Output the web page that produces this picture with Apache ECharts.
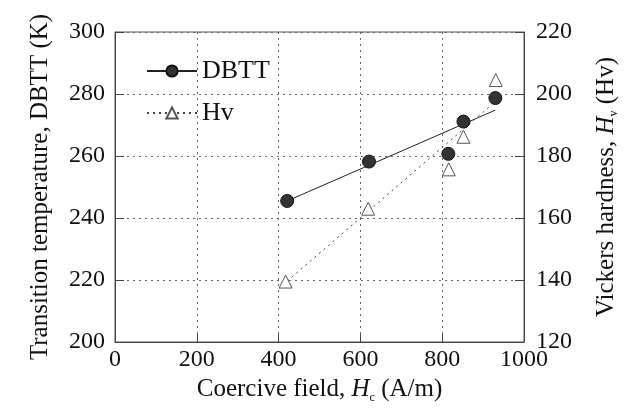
<!DOCTYPE html>
<html><head><meta charset="utf-8">
<script src="https://cdn.jsdelivr.net/npm/echarts@6/dist/echarts.min.js"></script>
<style>html,body{margin:0;padding:0;background:#fff}#c{width:635px;height:416px}</style>
</head><body><div id="c"></div>
<script>
const xTicks = [0, 200, 400, 600, 800, 1000];
const dbttX = [421, 621, 815, 852, 930];
const dbttY = [245.5, 258.2, 260.7, 271.1, 278.7];
const hvX = [417, 619, 816, 852, 931];
const hvY = [139.5, 163, 175.7, 186.2, 204.5];
const dbttFitX = [421, 930];
const dbttFitY = [245.5, 274.8];
const hvFitX = [410, 919];
const hvFitY = [138.4, 196.3];

const F = '"Liberation Serif", "Times New Roman", serif';
const chart = echarts.init(document.getElementById('c'));
const zip = (a, b) => a.map((v, i) => [v, b[i]]);
chart.setOption({
  animation: false,
  textStyle: {fontFamily: F},
  grid: {left: 115, right: 111, top: 32, bottom: 74, show: true, borderColor: '#555', borderWidth: 1},
  legend: {
    orient: 'vertical', left: 141, top: 53, itemWidth: 50, itemHeight: 14, itemGap: 16,
    textStyle: {fontFamily: F, fontSize: 26, color: '#111'},
    data: ['DBTT', 'Hv']
  },
  xAxis: {
    type: 'value', min: 0, max: 1000, interval: 200,
    name: '{a|Coercive field, }{i|H}{s|c}{a| (A/m)}',
    nameLocation: 'middle', nameGap: 32,
    nameTextStyle: {rich: {
      a: {fontFamily: F, fontSize: 25, color: '#111'},
      i: {fontFamily: F, fontSize: 25, fontStyle: 'italic', color: '#111'},
      s: {fontFamily: F, fontSize: 12, color: '#111', padding: [16, 0, 0, 0]}
    }},
    axisLine: {lineStyle: {color: '#444', width: 1}},
    axisTick: {inside: true, length: 8, lineStyle: {color: '#444'}},
    axisLabel: {fontFamily: F, fontSize: 24, color: '#111', margin: 6, formatter: v => String(v)},
    splitLine: {show: true, lineStyle: {type: [2, 4], color: '#666', width: 1}}
  },
  yAxis: [{
    type: 'value', min: 200, max: 300, interval: 20,
    name: 'Transition temperature, DBTT (K)',
    nameLocation: 'middle', nameGap: 62, nameRotate: 90,
    nameTextStyle: {fontFamily: F, fontSize: 25, color: '#111'},
    axisLine: {show: true, lineStyle: {color: '#444', width: 1}},
    axisTick: {show: true, inside: true, length: 9, lineStyle: {color: '#444'}},
    axisLabel: {fontFamily: F, fontSize: 24, color: '#111', margin: 10, formatter: v => String(v)},
    splitLine: {show: true, lineStyle: {type: [2, 4], color: '#666', width: 1}}
  }, {
    type: 'value', min: 120, max: 220, interval: 20, position: 'right',
    name: '{a|Vickers hardness, }{i|H}{s|v}{a| (Hv)}',
    nameLocation: 'middle', nameGap: 68, nameRotate: 90,
    nameTextStyle: {rich: {
      a: {fontFamily: F, fontSize: 25, color: '#111'},
      i: {fontFamily: F, fontSize: 25, fontStyle: 'italic', color: '#111'},
      s: {fontFamily: F, fontSize: 12, color: '#111', padding: [16, 0, 0, 0]}
    }},
    axisLine: {show: true, lineStyle: {color: '#444', width: 1}},
    axisTick: {show: true, inside: true, length: 9, lineStyle: {color: '#444'}},
    axisLabel: {fontFamily: F, fontSize: 24, color: '#111', margin: 12, formatter: v => String(v)},
    splitLine: {show: false}
  }],
  series: [
    {name: 'DBTT', type: 'line', yAxisIndex: 0, data: zip(dbttFitX, dbttFitY), showSymbol: false,
     symbol: 'circle', symbolSize: 13,
     itemStyle: {color: '#333', borderColor: '#111', borderWidth: 1},
     lineStyle: {color: '#222', width: 1}, silent: true, z: 2},
    {name: 'DBTT pts', type: 'scatter', yAxisIndex: 0, data: zip(dbttX, dbttY), symbol: 'circle', symbolSize: 13,
     itemStyle: {color: '#333', borderColor: '#111', borderWidth: 1, opacity: 1}, z: 4},
    {name: 'Hv', type: 'line', yAxisIndex: 1, data: zip(hvFitX, hvFitY), showSymbol: false,
     symbol: 'triangle', symbolSize: 12,
     itemStyle: {color: '#fff', borderColor: '#555', borderWidth: 1},
     lineStyle: {color: '#444', width: 1, type: [2, 4]}, silent: true, z: 2},
    {name: 'Hv pts', type: 'scatter', yAxisIndex: 1, data: zip(hvX, hvY), symbol: 'triangle', symbolSize: 13,
     itemStyle: {color: '#fff', borderColor: '#555', borderWidth: 1, opacity: 1}, z: 3}
  ]
});
</script></body></html>
